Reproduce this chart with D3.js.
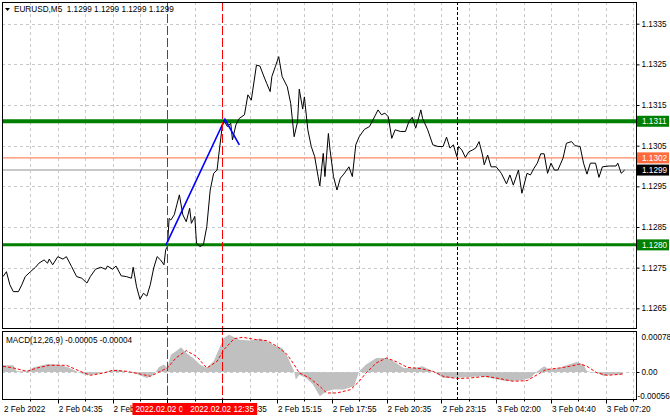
<!DOCTYPE html>
<html><head><meta charset="utf-8">
<script src="https://cdn.jsdelivr.net/npm/d3@7"></script>
<style>
body{margin:0;background:#fff}
svg{display:block}
text{font-family:"Liberation Sans",Arial,sans-serif;font-size:8.2px;fill:#000}
</style>
</head><body><svg id="c" width="670" height="419"></svg>
<script>
// ---------- DATA ----------
const title = "EURUSD,M5  1.1299 1.1299 1.1299 1.1299";
const macdTitle = "MACD(12,26,9) -0.00005 -0.00004";

const priceBars = [0,2,4,6,9,11,13,16,19,21,24,26,27,29,32,35,37,40,43,46,49,51,54,57,60,61,64,66,69,72,75,76,78,80,82,84,86,88,90,92,94,95,96,97,98,100,103,105,107,109,110,112,113,115,117,119,121,123,125,126,128,129,131,133,134,136,138,141,143,145,148,150,152,154,156,157,159,161,163,166,168,170,172,173,175,176,178,180,182,184,185,187,188,190,191,193,195,197,199,202,204,206,208,211,214,216,219,221,223,225,227,229,232,235,237,239,241,244,245,248,251,254,257,259,261,263,265,266,268,270,272,274,276,278,280,281,283,285,288,291,294,296,298,301,303,306,308,310,312,314,316,318,320,322,324,327,329,332,334,337,339,341,343,346,348,350,354,358,359,361,363];
const priceValues = [1.12728,1.12740,1.12708,1.12691,1.12691,1.12708,1.12728,1.12740,1.12751,1.12761,1.12769,1.12761,1.12771,1.12757,1.12777,1.12771,1.12777,1.12753,1.12728,1.12724,1.12712,1.12728,1.12746,1.12751,1.12746,1.12754,1.12746,1.12754,1.12730,1.12728,1.12724,1.12751,1.12703,1.12672,1.12687,1.12680,1.12708,1.12749,1.12777,1.12769,1.12757,1.12794,1.12802,1.12871,1.12867,1.12880,1.12929,1.12880,1.12863,1.12896,1.12859,1.12876,1.12810,1.12802,1.12806,1.12851,1.12941,1.12982,1.12990,1.13027,1.13097,1.13113,1.13097,1.13105,1.13064,1.13101,1.13117,1.13126,1.13175,1.13162,1.13248,1.13246,1.13224,1.13203,1.13183,1.13220,1.13244,1.13269,1.13220,1.13195,1.13154,1.13072,1.13109,1.13189,1.13140,1.13170,1.13089,1.13048,1.13023,1.12974,1.12951,1.13031,1.12974,1.13080,1.13039,1.12974,1.12941,1.12970,1.12980,1.12998,1.12974,1.13052,1.13072,1.13090,1.13097,1.13113,1.13138,1.13126,1.13130,1.13121,1.13068,1.13089,1.13085,1.13085,1.13109,1.13120,1.13093,1.13138,1.13117,1.13089,1.13052,1.13048,1.13048,1.13071,1.13044,1.13052,1.13023,1.13048,1.13039,1.13021,1.13035,1.13039,1.13044,1.13060,1.13027,1.13003,1.13027,1.12998,1.12998,1.12982,1.12956,1.12978,1.12953,1.12990,1.12933,1.12982,1.12978,1.12994,1.13007,1.13030,1.13030,1.12982,1.13007,1.12990,1.12990,1.13019,1.13056,1.13060,1.13050,1.13048,1.13007,1.12980,1.13007,1.13007,1.12972,1.12998,1.13000,1.13000,1.13007,1.12982,1.12990];

const trendBars = [95.2, 129.6, 138];
const trendValues = [1.12806, 1.13115, 1.13052];

const levelValues = [1.1311, 1.1302, 1.1299, 1.12806];
const levelLabels = ["1.1311", "1.1302", "1.1299", "1.1280"];

const histBars = [0,6,8,14,18,26,33,39,45,49,55,61,66,72,78,84,88,91,94,96,98,101,104,107,111,115,119,123,126,129,132,135,138,144,150,154,158,163,166,170,171,173,177,181,185,189,193,199,205,208,212,218,224,228,234,240,245,251,257,263,271,279,286,294,302,308,312,316,319,325,329,335,339,341,347,351,354,362];
const histValues = [0.000137,0.000137,0.000014,0.000014,0.000096,0.000164,0.000151,0.000082,-0.000021,-0.000069,-0.000041,0.000014,0.000048,0.000014,-0.000041,-0.000123,-0.000055,0.000096,0.000151,0.000082,0.000356,0.000425,0.000507,0.000390,0.000288,0.000151,0.000082,0.000219,0.000459,0.000699,0.000767,0.000712,0.000664,0.000644,0.000685,0.000630,0.000548,0.000493,0.000322,0.000014,-0.000158,-0.000055,-0.000123,-0.000260,-0.000500,-0.000397,-0.000363,-0.000363,-0.000295,0.000014,0.000151,0.000288,0.000288,0.000219,0.000082,0.000082,0.000116,0.000014,-0.000123,-0.000123,-0.000110,-0.000089,-0.000137,-0.000192,-0.000178,-0.000123,0.000014,0.000116,0.000048,0.000082,0.000137,0.000206,0.000151,0.000014,-0.000021,-0.000089,-0.000055,-0.00005];

const signalBars = [0,6,14,20,27,37,45,51,59,64,72,80,86,92,96,101,107,113,119,125,129,135,140,148,154,160,166,170,173,179,185,189,195,203,208,212,218,224,230,236,244,251,257,265,273,282,290,298,306,312,317,325,331,337,341,347,353,358,362];
const signalValues = [0.000116,0.000082,0.000014,0.000082,0.000137,0.000137,0.000014,-0.000069,-0.000021,0.000034,0.000014,-0.000041,-0.000089,0.000014,0.000082,0.000288,0.000438,0.000322,0.000082,0.000219,0.000459,0.000685,0.000712,0.000664,0.000644,0.000527,0.000356,0.000151,-0.000021,-0.000123,-0.000295,-0.000432,-0.000432,-0.000363,-0.000192,-0.000021,0.000185,0.000288,0.000206,0.000096,0.000068,0.000014,-0.000089,-0.000137,-0.000123,-0.000089,-0.000137,-0.000192,-0.000178,-0.000055,0.000048,0.000082,0.000116,0.000164,0.000116,-0.000021,-0.000069,-0.000055,-0.00004];

const priceTicks = [1.1335,1.1325,1.1315,1.1305,1.1295,1.1285,1.1275,1.1265];
const macdTicks = [0.00078, 0, -0.00056];
const macdTickLabels = ["0.00078", "0.00", "-0.00056"];

const timeTickBars = [0,32,64,96,128,160,192,224,256,288,320,352];
const timeTickLabels = ["2 Feb 2022","2 Feb 04:35","2 Feb 07:15","2 Feb 09:55","2 Feb 12:35","2 Feb 15:15","2 Feb 17:55","2 Feb 20:35","2 Feb 23:15","3 Feb 02:00","3 Feb 04:40","3 Feb 07:20"];
const minorStep = 16;
const markerBars = [96, 128];
const markerLabels = ["2022.02.02 09:55", "2022.02.02 12:35"];
const separatorBar = 265;
const totalBars = 369;

// ---------- LAYOUT ----------
const svg = d3.select("#c");
const L = 2, R = 636, mainTop = 2, mainBot = 328, macdTop = 331, macdBot = 399;
const x = d3.scaleLinear().domain([0, totalBars]).range([3, 3 + totalBars * 1.7125]);
const y = d3.scaleLinear().domain([1.1265, 1.1335]).range([308.3, 23.7]);
const ym = d3.scaleLinear().domain([-0.00056, 0.00078]).range([399.2, 334]);

svg.append("defs").html(
  `<clipPath id="cm"><rect x="${L}" y="${mainTop}" width="${R-L}" height="${mainBot-mainTop}"/></clipPath>
   <clipPath id="cd"><rect x="${L}" y="${macdTop}" width="${R-L}" height="${macdBot-macdTop}"/></clipPath>
   <clipPath id="cb1"><rect x="-40" y="-2" width="55" height="16"/></clipPath>`);

const gridStroke = "#c8c8c8";
const vticks = d3.range(minorStep, totalBars, minorStep);

// main grid
const gMain = svg.append("g").attr("clip-path", "url(#cm)");
gMain.selectAll(".hg").data(priceTicks).join("line")
  .attr("x1", L).attr("x2", R).attr("y1", d => Math.round(y(d)) + 0.5).attr("y2", d => Math.round(y(d)) + 0.5)
  .attr("stroke", gridStroke).attr("stroke-dasharray", "3,3");
gMain.selectAll(".vg").data(vticks).join("line")
  .attr("x1", d => Math.round(x(d)) + 0.5).attr("x2", d => Math.round(x(d)) + 0.5).attr("y1", mainTop).attr("y2", mainBot)
  .attr("stroke", gridStroke).attr("stroke-dasharray", "3,3");

// macd grid
const gMacd = svg.append("g").attr("clip-path", "url(#cd)");
gMacd.selectAll(".vg").data(vticks).join("line")
  .attr("x1", d => Math.round(x(d)) + 0.5).attr("x2", d => Math.round(x(d)) + 0.5).attr("y1", macdTop).attr("y2", macdBot)
  .attr("stroke", gridStroke).attr("stroke-dasharray", "3,3");

// level lines
const levelStyle = [
  {c: "#008000", w: 4}, {c: "#ff8a65", w: 1.3}, {c: "#c8c8c8", w: 2}, {c: "#008000", w: 3}
];
gMain.selectAll(".lv").data(levelValues).join("line")
  .attr("x1", L).attr("x2", R).attr("y1", d => y(d)).attr("y2", d => y(d))
  .attr("stroke", (d, i) => levelStyle[i].c).attr("stroke-width", (d, i) => levelStyle[i].w);

// price line
const pts = priceBars.map((b, i) => [b, priceValues[i]]);
gMain.append("path").datum(pts)
  .attr("d", d3.line().x(d => x(d[0])).y(d => y(d[1])))
  .attr("fill", "none").attr("stroke", "#000").attr("stroke-width", 1).attr("stroke-linejoin", "round");

// trend line
gMain.append("path").datum(trendBars.map((b, i) => [b, trendValues[i]]))
  .attr("d", d3.line().x(d => x(d[0])).y(d => y(d[1])))
  .attr("fill", "none").attr("stroke", "#0000ff").attr("stroke-width", 1.6);

// macd
const hp = histBars.map((b, i) => [b, histValues[i]]);
gMacd.append("path").datum(hp)
  .attr("d", d3.area().x(d => x(d[0])).y0(ym(0)).y1(d => ym(d[1])))
  .attr("fill", "#c0c0c0");
gMacd.append("line").attr("x1", L).attr("x2", R).attr("y1", Math.round(ym(0)) + 0.5).attr("y2", Math.round(ym(0)) + 0.5)
  .attr("stroke", gridStroke).attr("stroke-dasharray", "3,3");
gMacd.append("path").datum(signalBars.map((b, i) => [b, signalValues[i]]))
  .attr("d", d3.line().x(d => x(d[0])).y(d => ym(d[1])))
  .attr("fill", "none").attr("stroke", "#ff0000").attr("stroke-width", 1).attr("stroke-dasharray", "3,2");

// vertical markers
svg.selectAll(".mk").data(markerBars).join("line")
  .attr("x1", d => Math.round(x(d)) + 0.5).attr("x2", d => Math.round(x(d)) + 0.5)
  .attr("y1", mainTop).attr("y2", macdBot)
  .attr("stroke", "#ff0000").attr("stroke-width", 1).attr("stroke-dasharray", "9,3");
svg.append("line")
  .attr("x1", Math.round(x(separatorBar)) + 0.5).attr("x2", Math.round(x(separatorBar)) + 0.5)
  .attr("y1", mainTop).attr("y2", macdBot)
  .attr("stroke", "#000").attr("stroke-width", 1).attr("stroke-dasharray", "3,2");

// frames
svg.append("rect").attr("x", L + 0.5).attr("y", mainTop + 0.5).attr("width", R - L).attr("height", mainBot - mainTop)
  .attr("fill", "none").attr("stroke", "#000");
svg.append("rect").attr("x", L + 0.5).attr("y", macdTop + 0.5).attr("width", R - L).attr("height", macdBot - macdTop)
  .attr("fill", "none").attr("stroke", "#000");

// price axis
const pa = svg.append("g").attr("transform", `translate(${R + 0.5},0)`)
  .call(d3.axisRight(y).tickValues(priceTicks).tickSize(3).tickPadding(2).tickFormat(d3.format(".4f")));
pa.select(".domain").remove();
pa.selectAll("text").style("font-size", "8.2px").style("font-family", '"Liberation Sans",Arial,sans-serif');

// level label boxes
const lbColors = ["#008000", "#ff6a3d", "#000000", "#008000"];
const lb = svg.selectAll(".lb").data(levelValues).join("g")
  .attr("transform", d => `translate(${R + 1},${y(d)})`);
lb.append("rect").attr("x", 0).attr("y", -5.5).attr("width", 32).attr("height", 11)
  .attr("fill", (d, i) => lbColors[i]);
lb.append("text").attr("x", 5).attr("y", 3).style("fill", "#fff").text((d, i) => levelLabels[i]);

// macd axis
const ma = svg.append("g").attr("transform", `translate(${R + 0.5},0)`);
ma.selectAll("line").data(macdTicks).join("line")
  .attr("x1", 0).attr("x2", 3).attr("y1", d => Math.round(ym(d)) + 0.5).attr("y2", d => Math.round(ym(d)) + 0.5)
  .attr("stroke", d => d === 0 ? "#000" : "none");
ma.selectAll("text").data(macdTicks).join("text")
  .attr("x", (d, i) => i === 2 ? 1 : 5).attr("y", (d, i) => ym(d) + (i === 0 ? 6 : i === 2 ? -0.5 : 3))
  .text((d, i) => macdTickLabels[i]);

// time axis
const ta = svg.append("g").attr("transform", `translate(0,${macdBot + 0.5})`);
ta.selectAll("line").data(vticks).join("line")
  .attr("x1", d => Math.round(x(d)) + 0.5).attr("x2", d => Math.round(x(d)) + 0.5)
  .attr("y1", 0).attr("y2", d => d % 32 === 0 ? 4 : 2).attr("stroke", "#000");
ta.selectAll("text").data(timeTickBars).join("text")
  .attr("x", d => x(d) + 1).attr("y", 12.5).text((d, i) => timeTickLabels[i]);

// marker date boxes (second box drawn over the first, as in the platform)
const mb = svg.selectAll(".mb").data(markerBars).join("g")
  .attr("transform", d => `translate(${x(d)},${macdBot + 4})`);
mb.append("rect").attr("x", -35).attr("y", 0).attr("width", 70).attr("height", 12).attr("fill", "#ff0000");
mb.append("text").attr("x", -32).attr("y", 9).style("fill", "#fff")
  .attr("clip-path", (d, i) => i === 0 ? "url(#cb1)" : null)
  .text((d, i) => markerLabels[i]);

// titles
svg.append("path").attr("d", "M5,8 L10,8 L7.5,11 Z").attr("fill", "#000");
svg.append("text").attr("x", 14).attr("y", 12).attr("xml:space", "preserve").style("white-space", "pre").text(title);
svg.append("text").attr("x", 6).attr("y", 343).text(macdTitle);
</script>
</body></html>
